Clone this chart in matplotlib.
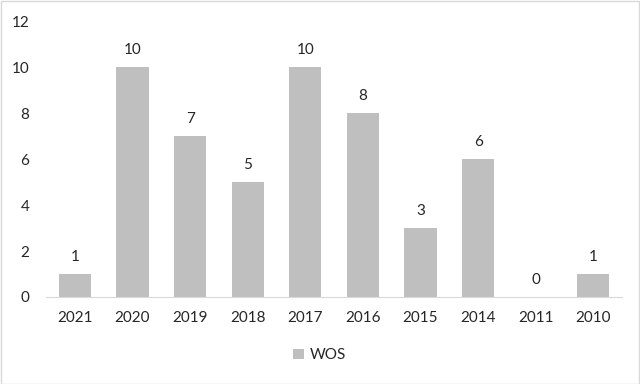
import matplotlib.pyplot as plt
from matplotlib.patches import Rectangle

years = ["2021", "2020", "2019", "2018", "2017", "2016", "2015", "2014", "2011", "2010"]
wos = [1, 10, 7, 5, 10, 8, 3, 6, 0, 1]

plt.rcParams['font.family'] = ['Lato', 'DejaVu Sans']
text_color = "#262626"

fig = plt.figure(figsize=(6.4, 3.84), dpi=100)
ax = fig.add_axes([0.072, 0.2266, 0.9, 0.7184])

x = range(len(years))
bars = ax.bar(x, wos, width=0.56, color="#BFBFBF", label="WOS")
for xi, v in zip(x, wos):
    ax.text(xi, v + 0.45, str(v), ha="center", va="bottom", fontsize=11, color=text_color)

ax.set_xlim(-0.5, len(years) - 0.5)
ax.set_ylim(0, 12)
ax.set_yticks(range(0, 13, 2))
ax.set_xticks(list(x))
ax.set_xticklabels(years)
ax.tick_params(axis="both", length=0, labelsize=11, colors=text_color)
ax.tick_params(axis="x", pad=10)
ax.tick_params(axis="y", pad=12)
for s in ["top", "right", "left"]:
    ax.spines[s].set_visible(False)
ax.spines["bottom"].set_color("#D9D9D9")

fig.legend(loc="center", bbox_to_anchor=(0.5, 0.075), frameon=False, fontsize=11,
           handlelength=0.7, handleheight=0.7, handletextpad=0.4, labelcolor=text_color)

fig.patches.append(Rectangle((0.001, 0.001), 0.997, 0.997, transform=fig.transFigure,
                             fill=False, edgecolor="#D9D9D9", linewidth=1))

fig.savefig("out.png", dpi=100)
